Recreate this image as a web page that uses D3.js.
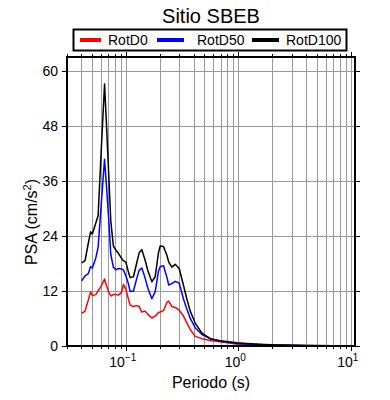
<!DOCTYPE html>
<html>
<head>
<meta charset="utf-8">
<title>Sitio SBEB</title>
<script src="https://d3js.org/d3.v7.min.js"></script>
<style>
body { margin: 0; background: #fff; }
text { font-family: "Liberation Sans", Arial, sans-serif; }
</style>
</head>
<body>
<script type="text/javascript">

var width = 390,
    height = 400;

var margin = { left: 67, right: 35, top: 57, bottom: 54 };

// periods (s)
var periods = [0.0405, 0.0434, 0.0464, 0.0486, 0.0504, 0.0541, 0.0567, 0.0603, 0.0647, 0.0677,
  0.0703, 0.0735, 0.0775, 0.0820, 0.0859, 0.0917, 0.0952, 0.100, 0.1048, 0.1092,
  0.1169, 0.1253, 0.1314, 0.1388, 0.1485, 0.1570, 0.1704, 0.1823, 0.1951, 0.2020,
  0.2162, 0.2318, 0.2405, 0.2568, 0.2748, 0.2983, 0.3259, 0.3493, 0.3738, 0.4141,
  0.4752, 0.5632, 0.6913, 0.9737, 1.279, 1.7, 2.0, 3.0, 4.0, 5.0, 7.0, 10.0];

var rotD0 = [7.1, 7.6, 10.0, 11.8, 11.0, 11.2, 12.0, 13.0, 14.6, 13.0,
  11.8, 10.9, 11.2, 11.2, 11.1, 11.7, 13.4, 12.4, 10.5, 8.9,
  8.6, 8.8, 8.6, 7.4, 7.6, 6.9, 6.1, 6.5, 7.3, 7.4,
  7.7, 9.5, 9.8, 8.6, 8.4, 7.8, 6.5, 5.0, 3.6, 2.1,
  1.6, 1.2, 0.9, 0.45, 0.3, 0.2, 0.16, 0.1, 0.07, 0.05, 0.035, 0.02];

var rotD50 = [14.2, 15.3, 15.8, 17.3, 17.0, 19.2, 21.5, 30.5, 40.7, 34.0,
  28.0, 20.0, 17.2, 16.6, 16.9, 16.8, 16.6, 15.3, 13.8, 11.9,
  12.0, 14.8, 16.5, 17.0, 14.8, 12.6, 10.3, 11.8, 16.3, 17.3,
  17.5, 15.0, 13.3, 13.6, 14.1, 13.7, 10.2, 8.0, 6.0, 4.0,
  2.5, 1.6, 1.05, 0.55, 0.4, 0.28, 0.22, 0.14, 0.1, 0.07, 0.05, 0.03];

var rotD100 = [18.1, 18.6, 22.4, 24.9, 24.4, 26.8, 28.4, 42.0, 57.1, 47.0,
  38.0, 27.3, 21.8, 20.8, 20.2, 19.1, 18.6, 18.3, 16.4, 14.9,
  15.1, 18.2, 20.3, 21.0, 18.7, 16.4, 14.0, 15.1, 20.3, 21.8,
  21.7, 19.8, 18.3, 17.2, 17.8, 16.9, 13.2, 10.2, 7.6, 5.0,
  2.8, 1.6, 1.15, 0.7, 0.5, 0.35, 0.27, 0.17, 0.12, 0.09, 0.06, 0.04];

var seriesNames = ["RotD0", "RotD50", "RotD100"];
var seriesColors = ["#ff0000", "#0000ff", "#000000"];
var yTicks = [0, 12, 24, 36, 48, 60];
var xDecades = [0.1, 1, 10];
var xExponents = ["\u22121", "0", "1"];

var series = [rotD0, rotD50, rotD100];

var svg = d3.select("body").append("svg")
    .attr("width", width)
    .attr("height", height);

var x = d3.scaleLog()
    .domain([0.03, 10.9])
    .range([margin.left, width - margin.right]);

var y = d3.scaleLinear()
    .domain([0, 63])
    .range([height - margin.bottom, margin.top]);

var x0 = x.range()[0], x1 = x.range()[1],
    y0 = y.range()[0], y1 = y.range()[1];

// minor positions 1..9 per decade
var minorTicks = [];
[0.01, 0.1, 1, 10].forEach(function(d) {
  for (var k = 1; k < 10; k++) {
    var v = d * k;
    if (v >= x.domain()[0] && v <= x.domain()[1]) minorTicks.push(v);
  }
});

// grid
var grid = svg.append("g").attr("class", "grid")
    .style("stroke", "#9a9a9a")
    .style("stroke-width", 1);

grid.selectAll("line.vx")
    .data(minorTicks)
    .enter().append("line")
    .attr("class", "vx")
    .attr("x1", d => Math.round(x(d)) + 0.5)
    .attr("x2", d => Math.round(x(d)) + 0.5)
    .attr("y1", y1)
    .attr("y2", y0);

grid.selectAll("line.hy")
    .data(yTicks.filter(d => d > 0))
    .enter().append("line")
    .attr("class", "hy")
    .attr("x1", x0)
    .attr("x2", x1)
    .attr("y1", d => Math.round(y(d)) + 0.5)
    .attr("y2", d => Math.round(y(d)) + 0.5);

// curves
var line = d3.line()
    .x((d, i) => x(periods[i]))
    .y(d => y(d));

svg.append("g").selectAll("path")
    .data(series)
    .enter().append("path")
    .attr("d", line)
    .style("fill", "none")
    .style("stroke", (d, i) => seriesColors[i])
    .style("stroke-width", 1.5)
    .style("stroke-linejoin", "round");

// ticks on frame
var ticks = svg.append("g").style("stroke", "#000").style("stroke-width", 1);

ticks.selectAll("line.bt")
    .data(minorTicks)
    .enter().append("line")
    .attr("x1", d => Math.round(x(d)) + 0.5)
    .attr("x2", d => Math.round(x(d)) + 0.5)
    .attr("y1", y0)
    .attr("y2", d => y0 + (xDecades.indexOf(d) >= 0 ? 5 : 3));

ticks.selectAll("line.tt")
    .data(minorTicks)
    .enter().append("line")
    .attr("x1", d => Math.round(x(d)) + 0.5)
    .attr("x2", d => Math.round(x(d)) + 0.5)
    .attr("y1", y1)
    .attr("y2", d => y1 - (xDecades.indexOf(d) >= 0 ? 5 : 3));

ticks.selectAll("line.lt")
    .data(yTicks)
    .enter().append("line")
    .attr("x1", x0 - 5)
    .attr("x2", x0)
    .attr("y1", d => Math.round(y(d)) + 0.5)
    .attr("y2", d => Math.round(y(d)) + 0.5);

ticks.selectAll("line.rt")
    .data(yTicks)
    .enter().append("line")
    .attr("x1", x1)
    .attr("x2", x1 + 5)
    .attr("y1", d => Math.round(y(d)) + 0.5)
    .attr("y2", d => Math.round(y(d)) + 0.5);

// frame
svg.append("rect")
    .attr("x", x0)
    .attr("y", y1)
    .attr("width", x1 - x0)
    .attr("height", y0 - y1)
    .style("fill", "none")
    .style("stroke", "#000")
    .style("stroke-width", 2);

// y labels
svg.selectAll("text.yl")
    .data(yTicks)
    .enter().append("text")
    .attr("class", "yl")
    .attr("x", x0 - 9)
    .attr("y", d => y(d) + 5)
    .attr("text-anchor", "end")
    .style("font-size", "14px")
    .text(d => d);

// x labels 10^n
var xl = svg.selectAll("text.xl")
    .data(xDecades)
    .enter().append("text")
    .attr("class", "xl")
    .attr("x", d => x(d) - 3)
    .attr("y", y0 + 21)
    .attr("text-anchor", "middle")
    .style("font-size", "14px");
xl.append("tspan").text("10");
xl.append("tspan")
    .attr("dy", -6)
    .style("font-size", "10px")
    .text((d, i) => xExponents[i]);

// axis titles
svg.append("text")
    .attr("x", (x0 + x1) / 2)
    .attr("y", 388)
    .attr("text-anchor", "middle")
    .style("font-size", "16px")
    .text("Periodo (s)");

var yt = svg.append("text")
    .attr("transform", "translate(37,222) rotate(-90)")
    .attr("text-anchor", "middle")
    .style("font-size", "16px");
yt.append("tspan").text("PSA (cm/s");
yt.append("tspan").attr("dy", -6).style("font-size", "11px").text("2");
yt.append("tspan").attr("dy", 6).text(")");

svg.append("text")
    .attr("x", (x0 + x1) / 2)
    .attr("y", 23)
    .attr("text-anchor", "middle")
    .style("font-size", "20px")
    .text("Sitio SBEB");

// legend
var legend = svg.append("g").attr("class", "legend");
legend.append("rect")
    .attr("x", 73.5)
    .attr("y", 29.5)
    .attr("width", 273)
    .attr("height", 21)
    .style("fill", "#fff")
    .style("stroke", "#000")
    .style("stroke-width", 2);

var legendX = [80, 157, 252];
var li = legend.selectAll("g.item")
    .data(seriesNames)
    .enter().append("g")
    .attr("transform", (d, i) => "translate(" + legendX[i] + ",40)");
li.append("line")
    .attr("x1", 0)
    .attr("x2", (d, i) => i == 0 ? 21 : 27)
    .style("stroke", (d, i) => seriesColors[i])
    .style("stroke-width", 4);
li.append("text")
    .attr("x", (d, i) => i == 0 ? 28 : 40 - (i == 2 ? 6 : 0))
    .attr("y", 5)
    .style("font-size", "14px")
    .text(d => d);

</script>
</body>
</html>
